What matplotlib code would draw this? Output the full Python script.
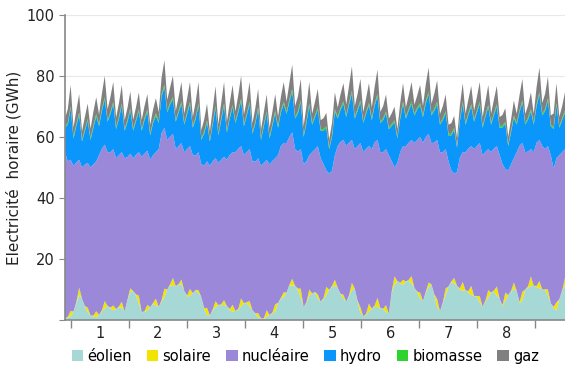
import matplotlib
matplotlib.use("Agg")
import matplotlib.pyplot as plt
from matplotlib.patches import Patch
import numpy as np

# Production horaire (GWh), 3 relevés par jour : nuit, matinée, pointe
eolien = [
    0.5, 0.8, 1.2,  2.8, 5.5, 8.4,  7.0, 4.4, 2.6,  1.5, 1.2, 0.9,  1.7, 2.8, 3.8,
    4.6, 3.8, 3.2,  3.6, 4.2, 4.0,  2.8, 6.5, 9.2,  9.5, 8.0, 5.5,  2.6, 2.6, 3.2,
    4.2, 5.3, 4.8,  4.3, 6.0, 7.5,  10.0, 11.3, 11.2,  11.1, 11.5, 11.8,  9.5, 7.7, 8.0,
    8.8, 9.7, 8.8,  7.5, 3.5, 1.6,  1.5, 3.2, 4.2,  4.9, 4.9, 4.9,  4.6, 3.2, 2.8,
    3.0, 3.2, 4.5,  5.5, 5.6, 4.4,  3.2, 2.0, 0.9,  0.5, 0.3, 1.2,  1.7, 2.0, 2.8,
    5.6, 7.0, 7.5,  9.0, 11.3, 11.3,  11.2, 9.8, 7.5,  4.2, 5.6, 8.0,  8.7, 9.0, 7.0,
    6.0, 6.8, 8.3,  9.9, 10.9, 11.2,  10.6, 8.4, 7.1,  6.0, 7.8, 9.8,  10.3, 6.0, 2.4,
    1.2, 1.7, 2.8,  3.7, 4.3, 4.3,  4.0, 3.4, 2.7,  2.0, 9.0, 11.5,  12.8, 11.9, 11.6,
    12.6, 12.8, 12.0,  10.5, 9.0, 7.0,  6.2, 9.0, 10.7,  11.7, 8.0, 4.3,  2.9, 5.5, 8.2,
    11.0, 12.4, 12.0,  11.2, 9.9, 9.7,  9.7, 9.0, 8.2,  7.9, 7.6, 5.8,  4.4, 6.0, 7.4,
    9.0, 9.2, 8.0,  7.0, 4.4, 6.4,  8.2, 9.2, 10.3,  9.6, 5.5, 6.5,  10.0, 10.6, 11.1,
    11.2, 10.8, 10.4,  10.0, 9.8, 8.0,  5.4, 3.9, 3.2,  6.8, 9.4, 11.6,
]
solaire = [
    0, 0.3, 1.8,  0, 0.4, 2.2,  0, 0.2, 1.5,  0, 0.3, 2.0,  0, 0.4, 2.4,
    0, 0.3, 1.6,  0, 0.3, 2.0,  0, 0.2, 1.2,  0, 0.4, 2.5,  0, 0.3, 1.8,
    0, 0.3, 2.2,  0, 0.5, 2.8,  0, 0.4, 2.6,  0, 0.3, 1.5,  0, 0.3, 2.2,
    0, 0.2, 1.0,  0, 0.4, 2.4,  0, 0.3, 2.0,  0, 0.3, 1.6,  0, 0.4, 2.2,
    0, 0.4, 2.6,  0, 0.3, 1.8,  0, 0.2, 1.4,  0, 0.3, 2.0,  0, 0.4, 2.4,
    0, 0.3, 1.6,  0, 0.3, 2.2,  0, 0.5, 2.8,  0, 0.3, 2.0,  0, 0.2, 1.4,
    0, 0.4, 2.6,  0, 0.3, 2.0,  0, 0.2, 1.2,  0, 0.4, 2.4,  0, 0.3, 1.8,
    0, 0.4, 2.6,  0, 0.5, 3.0,  0, 0.3, 2.2,  0, 0.4, 2.8,  0, 0.3, 1.6,
    0, 0.4, 2.4,  0, 0.3, 2.0,  0, 0.3, 1.6,  0, 0.4, 2.6,  0, 0.3, 2.2,
    0, 0.3, 1.8,  0, 0.5, 2.8,  0, 0.5, 3.0,  0, 0.3, 2.0,  0, 0.4, 2.4,
    0, 0.5, 3.0,  0, 0.4, 2.6,  0, 0.3, 2.0,  0, 0.4, 2.8,  0, 0.5, 3.2,
    0, 0.4, 2.4,  0, 0.3, 2.0,  0, 0.4, 2.6,  0, 0.3, 2.2,
]
nucleaire = [
    54.5, 50.9, 49.5,  47.7, 45.7, 41.9,  43.0, 46.3, 47.4,  48.5, 49.5, 49.1,  52.3, 52.9, 51.3,
    50.4, 50.9, 51.2,  49.4, 49.5, 49.0,  50.2, 46.7, 44.1,  43.5, 45.7, 47.0,  50.9, 51.6, 50.5,
    48.3, 48.4, 48.0,  51.7, 54.7, 52.7,  49.0, 48.4, 47.2,  44.9, 45.2, 44.7,  45.5, 48.0, 46.8,
    45.2, 44.0, 45.2,  43.5, 46.7, 48.0,  49.0, 48.5, 46.8,  46.6, 47.3, 47.0,  47.9, 50.5, 50.0,
    52.0, 52.5, 49.9,  48.5, 49.1, 49.8,  48.8, 49.7, 50.7,  50.0, 50.9, 49.3,  49.3, 49.7, 47.8,
    48.4, 49.7, 48.9,  49.0, 48.4, 48.0,  44.8, 44.9, 45.7,  46.8, 46.1, 44.0,  46.3, 46.7, 48.6,
    47.0, 43.9, 38.1,  38.1, 37.8, 40.8,  46.4, 49.8, 50.7,  51.0, 49.9, 46.8,  45.7, 50.7, 53.8,
    53.8, 54.0, 51.6,  52.3, 53.4, 51.7,  51.0, 51.3, 51.1,  52.0, 42.7, 35.7,  38.7, 42.8, 43.8,
    44.4, 44.9, 44.6,  47.5, 49.7, 51.0,  51.8, 50.7, 48.7,  46.3, 49.7, 52.1,  52.1, 49.2, 45.6,
    41.0, 36.3, 34.2,  37.3, 42.8, 42.5,  45.3, 46.7, 45.8,  48.1, 49.1, 50.2,  49.6, 48.7, 46.2,
    46.0, 46.5, 46.0,  47.0, 46.3, 40.5,  40.8, 41.5, 40.7,  45.4, 51.2, 48.7,  45.0, 44.1, 41.7,
    43.8, 46.9, 46.2,  47.0, 45.9, 47.0,  48.6, 45.3, 47.2,  47.2, 45.3, 42.2,
]
hydro = [
    8.0, 12.0, 16.8,  9.0, 12.0, 14.8,  8.5, 11.0, 13.8,  9.0, 12.0, 14.8,  9.5, 12.5, 14.8,
    10.0, 12.5, 14.8,  9.5, 12.0, 15.3,  9.0, 11.5, 14.3,  9.0, 11.0, 13.4,  8.5, 11.0, 12.8,
    8.0, 10.5, 12.0,  8.5, 12.0, 13.3,  9.0, 10.5, 11.3,  9.0, 11.0, 12.8,  9.0, 11.5, 13.8,
    9.0, 12.0, 15.3,  8.0, 10.5, 12.8,  8.0, 12.0, 16.4,  9.0, 13.0, 16.8,  9.0, 12.0, 14.8,
    9.5, 12.0, 14.8,  9.5, 12.0, 14.8,  9.0, 12.5, 16.0,  8.5, 12.0, 15.3,  8.5, 11.5, 14.8,
    9.0, 11.0, 12.8,  9.5, 11.5, 13.4,  10.0, 12.5, 15.3,  9.0, 12.5, 16.3,  9.0, 10.5, 12.0,
    9.0, 11.0, 13.8,  8.0, 11.0, 14.4,  9.0, 10.5, 11.9,  9.5, 12.5, 15.3,  10.0, 11.5, 13.3,
    9.5, 11.5, 13.4,  9.5, 12.0, 14.3,  9.5, 10.5, 11.8,  8.5, 11.5, 14.8,  8.0, 11.0, 13.9,
    9.0, 10.5, 11.8,  9.0, 10.0, 10.3,  8.5, 11.0, 12.9,  9.0, 10.5, 11.8,  9.0, 10.5, 11.8,
    8.5, 11.5, 14.3,  8.0, 12.0, 15.9,  9.0, 11.0, 13.0,  9.0, 11.0, 12.8,  9.0, 11.5, 13.8,
    9.0, 11.0, 13.0,  9.0, 12.0, 14.8,  8.0, 10.5, 13.3,  9.0, 11.0, 13.3,  9.0, 10.5, 12.4,
    9.0, 12.0, 14.9,  10.0, 12.5, 15.0,  9.5, 13.0, 17.4,  9.0, 10.5, 11.9,
]
biomasse = [
    0.5, 0.6, 0.7,  0.6, 0.6, 0.7,  0.5, 0.6, 0.6,  0.6, 0.7, 0.7,  0.6, 0.6, 0.7,
    0.5, 0.6, 0.7,  0.6, 0.6, 0.7,  0.5, 0.6, 0.6,  0.6, 0.6, 0.7,  0.5, 0.6, 0.7,
    0.6, 0.6, 0.7,  0.6, 0.7, 0.8,  0.6, 0.6, 0.7,  0.5, 0.6, 0.7,  0.6, 0.6, 0.7,
    0.5, 0.6, 0.7,  0.5, 0.6, 0.6,  0.6, 0.6, 0.7,  0.6, 0.7, 0.7,  0.5, 0.6, 0.7,
    0.6, 0.6, 0.7,  0.6, 0.6, 0.7,  0.5, 0.6, 0.7,  0.5, 0.6, 0.6,  0.6, 0.6, 0.7,
    0.6, 0.6, 0.7,  0.6, 0.7, 0.8,  0.6, 0.6, 0.7,  0.5, 0.6, 0.7,  0.6, 0.6, 0.7,
    0.5, 0.5, 0.6,  0.5, 0.6, 0.7,  0.6, 0.6, 0.7,  0.6, 0.7, 0.8,  0.6, 0.6, 0.7,
    0.5, 0.6, 0.7,  0.6, 0.7, 0.7,  0.5, 0.6, 0.6,  0.5, 0.6, 0.6,  0.5, 0.6, 0.7,
    0.6, 0.6, 0.7,  0.6, 0.6, 0.7,  0.6, 0.7, 0.8,  0.6, 0.6, 0.7,  0.5, 0.6, 0.6,
    0.5, 0.5, 0.6,  0.5, 0.6, 0.7,  0.6, 0.6, 0.7,  0.6, 0.6, 0.7,  0.5, 0.6, 0.7,
    0.6, 0.6, 0.7,  0.5, 0.6, 0.6,  0.5, 0.6, 0.6,  0.6, 0.6, 0.7,  0.5, 0.6, 0.7,
    0.6, 0.7, 0.8,  0.6, 0.6, 0.7,  0.5, 0.6, 0.7,  0.5, 0.6, 0.7,
]
gaz = [
    2.5, 4.5, 7.0,  3.0, 4.5, 6.0,  2.8, 4.0, 5.0,  3.0, 4.5, 5.5,  3.2, 5.0, 7.0,
    3.5, 5.0, 6.5,  3.2, 4.5, 6.0,  3.0, 4.0, 5.5,  3.0, 4.0, 5.5,  3.0, 4.0, 5.0,
    2.8, 3.8, 5.0,  3.0, 5.5, 8.0,  3.5, 5.0, 7.0,  3.0, 4.5, 6.5,  3.0, 4.5, 6.5,
    3.0, 5.0, 7.0,  2.7, 4.0, 5.5,  2.7, 4.5, 6.5,  3.0, 5.0, 7.0,  3.0, 4.5, 6.5,
    3.2, 5.0, 7.5,  3.2, 4.5, 6.5,  3.0, 4.5, 6.0,  2.8, 4.0, 5.5,  2.8, 4.0, 5.5,
    3.0, 4.5, 6.5,  3.5, 5.5, 8.0,  3.5, 5.0, 7.0,  3.0, 5.0, 7.0,  3.0, 4.5, 6.0,
    3.0, 3.5, 4.5,  2.5, 4.0, 5.5,  3.0, 4.5, 6.0,  3.5, 5.5, 8.0,  3.5, 5.0, 7.0,
    3.2, 4.5, 6.5,  3.5, 5.5, 8.0,  3.2, 4.0, 5.5,  3.0, 3.5, 4.5,  2.5, 4.5, 6.0,
    3.0, 4.5, 6.5,  3.0, 4.0, 6.0,  3.0, 5.5, 8.0,  3.2, 5.0, 7.0,  3.0, 4.0, 5.5,
    3.0, 3.5, 4.0,  2.5, 4.5, 6.0,  3.0, 4.5, 6.0,  3.0, 4.5, 6.5,  3.0, 4.5, 6.5,
    3.0, 4.5, 6.0,  3.0, 3.5, 4.5,  2.5, 3.5, 5.0,  3.0, 5.0, 7.0,  3.0, 4.0, 5.5,
    3.0, 5.5, 8.0,  3.5, 5.0, 7.0,  3.0, 4.5, 6.5,  3.0, 4.0, 6.0,
]

noms = ["éolien", "solaire", "nucléaire", "hydro", "biomasse", "gaz"]
couleurs = ["#a6d9d6", "#f2e400", "#9b88d8", "#0a96fb", "#2ed32e", "#808080"]
semaines = ["1", "2", "3", "4", "5", "6", "7", "8"]

# temps en jours (3 points par jour)
t = np.arange(len(eolien)) / 3

fig = plt.figure(figsize=(5.65, 3.70), dpi=100)
ax = fig.add_axes([0.115, 0.135, 0.885, 0.825])

ax.stackplot(t, eolien, solaire, nucleaire, hydro, biomasse, gaz,
             colors=couleurs, linewidth=0)

ax.set_xlim(0, t[-1])
ax.set_ylim(0, 100)

# axe y
ax.set_yticks([0, 20, 40, 60, 80, 100])
ax.set_yticklabels(["", "20", "40", "60", "80", "100"])
ax.grid(axis="y", color="#e8e8e8", linewidth=0.8)
ax.set_axisbelow(True)
ax.set_ylabel("Electricité  horaire (GWh)", fontsize=11, color="#222222")

# axe x : traits entre les semaines, numéros au milieu
bords = 0.7 + 6.81 * np.arange(9)
ax.set_xticks(bords)
ax.set_xticklabels([])
ax.set_xticks((bords[:-1] + bords[1:]) / 2, minor=True)
ax.set_xticklabels(semaines, minor=True)
ax.tick_params(axis="x", which="major", direction="out", length=6,
               color="#888888", width=1)
ax.tick_params(axis="x", which="minor", length=0, pad=4, labelsize=10.5,
               labelcolor="#222222")
ax.tick_params(axis="y", direction="out", length=4, color="#888888",
               labelsize=10.5, labelcolor="#222222")

for s in ["top", "right"]:
    ax.spines[s].set_visible(False)
for s in ["left", "bottom"]:
    ax.spines[s].set_color("#888888")
    ax.spines[s].set_linewidth(1.2)

poignees = [Patch(facecolor=c, edgecolor="none") for c in couleurs]
fig.legend(poignees, noms, loc="center", bbox_to_anchor=(0.54, 0.037),
           ncol=6, frameon=False, fontsize=10.5, handlelength=0.8,
           handleheight=0.8, handletextpad=0.25, columnspacing=1.05)

fig.savefig("out.png", dpi=100)
